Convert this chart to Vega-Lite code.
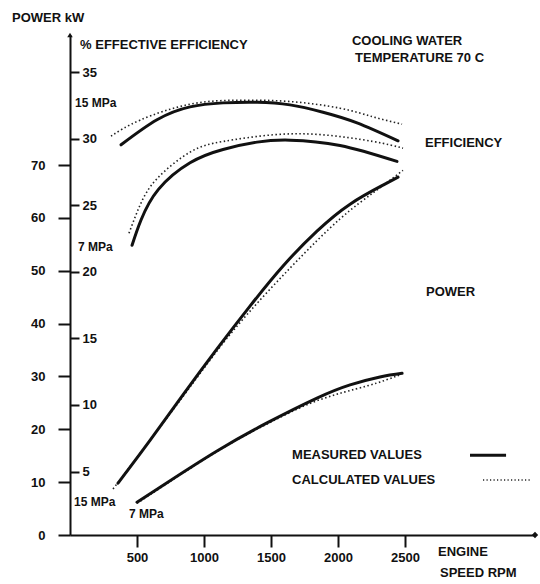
{
  "$schema": "https://vega.github.io/schema/vega-lite/v6.json",
  "width": 465,
  "height": 500,
  "autosize": {"type": "none"},
  "padding": {"left": 70, "top": 35, "right": 5, "bottom": 49},
  "background": "white",
  "config": {
    "view": {"stroke": null},
    "font": "Liberation Sans",
    "axis": {
      "grid": false,
      "domainColor": "#111",
      "tickColor": "#111",
      "labelColor": "#111",
      "domainWidth": 2,
      "tickWidth": 2,
      "labelFont": "Liberation Sans",
      "labelFontWeight": "bold",
      "labelFontSize": 13,
      "format": "d"
    }
  },
  "datasets": {
    "power": [
      {"rpm": 358, "kw": 9.8, "pressure": "15 MPa", "kind": "measured"},
      {"rpm": 597, "kw": 17.9, "pressure": "15 MPa", "kind": "measured"},
      {"rpm": 843, "kw": 26.5, "pressure": "15 MPa", "kind": "measured"},
      {"rpm": 1097, "kw": 35.2, "pressure": "15 MPa", "kind": "measured"},
      {"rpm": 1343, "kw": 43.3, "pressure": "15 MPa", "kind": "measured"},
      {"rpm": 1590, "kw": 50.9, "pressure": "15 MPa", "kind": "measured"},
      {"rpm": 1843, "kw": 57.5, "pressure": "15 MPa", "kind": "measured"},
      {"rpm": 2090, "kw": 62.6, "pressure": "15 MPa", "kind": "measured"},
      {"rpm": 2336, "kw": 66.2, "pressure": "15 MPa", "kind": "measured"},
      {"rpm": 2448, "kw": 67.7, "pressure": "15 MPa", "kind": "measured"},
      {"rpm": 321, "kw": 8.7, "pressure": "15 MPa", "kind": "calculated"},
      {"rpm": 843, "kw": 26.2, "pressure": "15 MPa", "kind": "calculated"},
      {"rpm": 1216, "kw": 38.6, "pressure": "15 MPa", "kind": "calculated"},
      {"rpm": 1642, "kw": 50.5, "pressure": "15 MPa", "kind": "calculated"},
      {"rpm": 2015, "kw": 59.8, "pressure": "15 MPa", "kind": "calculated"},
      {"rpm": 2276, "kw": 65.0, "pressure": "15 MPa", "kind": "calculated"},
      {"rpm": 2485, "kw": 69.0, "pressure": "15 MPa", "kind": "calculated"},
      {"rpm": 500, "kw": 6.2, "pressure": "7 MPa", "kind": "measured"},
      {"rpm": 724, "kw": 9.9, "pressure": "7 MPa", "kind": "measured"},
      {"rpm": 1097, "kw": 15.9, "pressure": "7 MPa", "kind": "measured"},
      {"rpm": 1470, "kw": 21.2, "pressure": "7 MPa", "kind": "measured"},
      {"rpm": 1843, "kw": 25.9, "pressure": "7 MPa", "kind": "measured"},
      {"rpm": 2090, "kw": 28.4, "pressure": "7 MPa", "kind": "measured"},
      {"rpm": 2313, "kw": 29.9, "pressure": "7 MPa", "kind": "measured"},
      {"rpm": 2478, "kw": 30.6, "pressure": "7 MPa", "kind": "measured"},
      {"rpm": 500, "kw": 6.0, "pressure": "7 MPa", "kind": "calculated"},
      {"rpm": 1097, "kw": 15.8, "pressure": "7 MPa", "kind": "calculated"},
      {"rpm": 1470, "kw": 21.0, "pressure": "7 MPa", "kind": "calculated"},
      {"rpm": 1843, "kw": 25.4, "pressure": "7 MPa", "kind": "calculated"},
      {"rpm": 2216, "kw": 28.2, "pressure": "7 MPa", "kind": "calculated"},
      {"rpm": 2463, "kw": 30.3, "pressure": "7 MPa", "kind": "calculated"}
    ],
    "efficiency": [
      {"rpm": 381, "eff": 29.55, "pressure": "15 MPa", "kind": "measured"},
      {"rpm": 649, "eff": 31.43, "pressure": "15 MPa", "kind": "measured"},
      {"rpm": 896, "eff": 32.4, "pressure": "15 MPa", "kind": "measured"},
      {"rpm": 1142, "eff": 32.7, "pressure": "15 MPa", "kind": "measured"},
      {"rpm": 1396, "eff": 32.75, "pressure": "15 MPa", "kind": "measured"},
      {"rpm": 1642, "eff": 32.55, "pressure": "15 MPa", "kind": "measured"},
      {"rpm": 1888, "eff": 32.0, "pressure": "15 MPa", "kind": "measured"},
      {"rpm": 2142, "eff": 31.2, "pressure": "15 MPa", "kind": "measured"},
      {"rpm": 2448, "eff": 29.85, "pressure": "15 MPa", "kind": "measured"},
      {"rpm": 306, "eff": 30.2, "pressure": "15 MPa", "kind": "calculated"},
      {"rpm": 522, "eff": 31.4, "pressure": "15 MPa", "kind": "calculated"},
      {"rpm": 896, "eff": 32.6, "pressure": "15 MPa", "kind": "calculated"},
      {"rpm": 1269, "eff": 32.9, "pressure": "15 MPa", "kind": "calculated"},
      {"rpm": 1642, "eff": 32.8, "pressure": "15 MPa", "kind": "calculated"},
      {"rpm": 2015, "eff": 32.3, "pressure": "15 MPa", "kind": "calculated"},
      {"rpm": 2261, "eff": 31.65, "pressure": "15 MPa", "kind": "calculated"},
      {"rpm": 2478, "eff": 31.1, "pressure": "15 MPa", "kind": "calculated"},
      {"rpm": 463, "eff": 22.0, "pressure": "7 MPa", "kind": "measured"},
      {"rpm": 530, "eff": 23.9, "pressure": "7 MPa", "kind": "measured"},
      {"rpm": 660, "eff": 26.2, "pressure": "7 MPa", "kind": "measured"},
      {"rpm": 896, "eff": 28.2, "pressure": "7 MPa", "kind": "measured"},
      {"rpm": 1142, "eff": 29.2, "pressure": "7 MPa", "kind": "measured"},
      {"rpm": 1396, "eff": 29.75, "pressure": "7 MPa", "kind": "measured"},
      {"rpm": 1642, "eff": 29.9, "pressure": "7 MPa", "kind": "measured"},
      {"rpm": 2015, "eff": 29.5, "pressure": "7 MPa", "kind": "measured"},
      {"rpm": 2440, "eff": 28.3, "pressure": "7 MPa", "kind": "measured"},
      {"rpm": 440, "eff": 22.9, "pressure": "7 MPa", "kind": "calculated"},
      {"rpm": 522, "eff": 25.0, "pressure": "7 MPa", "kind": "calculated"},
      {"rpm": 649, "eff": 27.0, "pressure": "7 MPa", "kind": "calculated"},
      {"rpm": 896, "eff": 29.0, "pressure": "7 MPa", "kind": "calculated"},
      {"rpm": 1142, "eff": 29.8, "pressure": "7 MPa", "kind": "calculated"},
      {"rpm": 1515, "eff": 30.3, "pressure": "7 MPa", "kind": "calculated"},
      {"rpm": 1888, "eff": 30.3, "pressure": "7 MPa", "kind": "calculated"},
      {"rpm": 2261, "eff": 29.8, "pressure": "7 MPa", "kind": "calculated"},
      {"rpm": 2485, "eff": 29.3, "pressure": "7 MPa", "kind": "calculated"}
    ],
    "legendLines": [
      {"rpm": 2985, "kw": 15.1, "kind": "measured"},
      {"rpm": 3254, "kw": 15.1, "kind": "measured"},
      {"rpm": 3082, "kw": 10.4, "kind": "calculated"},
      {"rpm": 3433, "kw": 10.4, "kind": "calculated"}
    ],
    "notes": [
      {"rpm": -433, "kw": 97.8, "text": "POWER kW"},
      {"rpm": 75, "kw": 92.7, "text": "% EFFECTIVE EFFICIENCY"},
      {"rpm": 2104, "kw": 93.4, "text": "COOLING WATER"},
      {"rpm": 2127, "kw": 90.2, "text": "TEMPERATURE 70 C"},
      {"rpm": 2649, "kw": 74.2, "text": "EFFICIENCY"},
      {"rpm": 2657, "kw": 46.0, "text": "POWER"},
      {"rpm": 1657, "kw": 15.1, "text": "MEASURED VALUES"},
      {"rpm": 1657, "kw": 10.4, "text": "CALCULATED VALUES"},
      {"rpm": 2746, "kw": -3.2, "text": "ENGINE"},
      {"rpm": 2761, "kw": -7.2, "text": "SPEED RPM"}
    ],
    "mpaNotes": [
      {"rpm": 37, "kw": 81.7, "text": "15 MPa"},
      {"rpm": 60, "kw": 54.5, "text": "7 MPa"},
      {"rpm": 30, "kw": 6.2, "text": "15 MPa"},
      {"rpm": 440, "kw": 4.0, "text": "7 MPa"}
    ],
    "axisEnds": [
      {"rpm": 3470, "kw": 0}
    ],
    "axisTop": [
      {"rpm": 0, "kw": 94.6}
    ]
  },
  "layer": [
    {
      "encoding": {
        "x": {
          "field": "rpm", "type": "quantitative",
          "scale": {"domain": [0, 3470], "nice": false, "zero": false},
          "axis": {"values": [500, 1000, 1500, 2000, 2500], "title": null, "tickSize": 12, "labelPadding": 4, "labelFlush": false, "format": "d"}
        },
        "y": {
          "field": "kw", "type": "quantitative",
          "scale": {"domain": [0, 94.6], "nice": false, "zero": false},
          "axis": {"orient": "left", "values": [0, 10, 20, 30, 40, 50, 60, 70], "title": null, "tickSize": 12, "labelPadding": 13, "labelFlush": false, "format": "d"}
        }
      },
      "layer": [
        {
          "data": {"name": "power"},
          "transform": [{"filter": "datum.kind === 'calculated'"}],
          "mark": {"type": "line", "color": "#222", "strokeWidth": 1.6, "strokeDash": [1.5, 2.5], "interpolate": "natural"},
          "encoding": {"detail": {"field": "pressure"}}
        },
        {
          "data": {"name": "power"},
          "transform": [{"filter": "datum.kind === 'measured'"}],
          "mark": {"type": "line", "color": "#111", "strokeWidth": 3, "interpolate": "natural", "strokeCap": "round"},
          "encoding": {"detail": {"field": "pressure"}}
        },
        {
          "data": {"name": "legendLines"},
          "transform": [{"filter": "datum.kind === 'measured'"}],
          "mark": {"type": "line", "color": "#111", "strokeWidth": 3},
          "encoding": {}
        },
        {
          "data": {"name": "legendLines"},
          "transform": [{"filter": "datum.kind === 'calculated'"}],
          "mark": {"type": "line", "color": "#222", "strokeWidth": 1.4, "strokeDash": [1.2, 2.3]},
          "encoding": {}
        },
        {
          "data": {"name": "notes"},
          "mark": {"type": "text", "align": "left", "baseline": "middle", "font": "Liberation Sans", "fontWeight": "bold", "fontSize": 13, "color": "#111"},
          "encoding": {"text": {"field": "text"}}
        },
        {
          "data": {"name": "mpaNotes"},
          "mark": {"type": "text", "align": "left", "baseline": "middle", "font": "Liberation Sans", "fontWeight": "bold", "fontSize": 12, "color": "#111"},
          "encoding": {"text": {"field": "text"}}
        },
        {
          "data": {"name": "axisEnds"},
          "mark": {"type": "point", "shape": "diamond", "filled": true, "size": 40, "color": "#111", "opacity": 1},
          "encoding": {}
        },
        {
          "data": {"name": "axisTop"},
          "mark": {"type": "point", "shape": "triangle-up", "filled": true, "size": 30, "color": "#111", "opacity": 1},
          "encoding": {}
        }
      ]
    },
    {
      "encoding": {
        "x": {
          "field": "rpm", "type": "quantitative",
          "scale": {"domain": [0, 3470], "nice": false, "zero": false},
          "axis": {"values": [500, 1000, 1500, 2000, 2500], "title": null, "tickSize": 12, "labelPadding": 4, "labelFlush": false, "format": "d"}
        },
        "y": {
          "field": "eff", "type": "quantitative",
          "scale": {"domain": [0.23, 37.8], "nice": false, "zero": false},
          "axis": {"orient": "right", "offset": -465, "values": [5, 10, 15, 20, 25, 30, 35], "title": null, "tickSize": 9, "labelPadding": 3, "domain": false, "labelFlush": false, "format": "d"}
        }
      },
      "layer": [
        {
          "data": {"name": "efficiency"},
          "transform": [{"filter": "datum.kind === 'calculated'"}],
          "mark": {"type": "line", "color": "#222", "strokeWidth": 1.6, "strokeDash": [1.5, 2.5], "interpolate": "natural"},
          "encoding": {"detail": {"field": "pressure"}}
        },
        {
          "data": {"name": "efficiency"},
          "transform": [{"filter": "datum.kind === 'measured'"}],
          "mark": {"type": "line", "color": "#111", "strokeWidth": 3, "interpolate": "natural", "strokeCap": "round"},
          "encoding": {"detail": {"field": "pressure"}}
        }
      ]
    }
  ],
  "resolve": {"scale": {"y": "independent"}, "axis": {"y": "independent"}}
}
